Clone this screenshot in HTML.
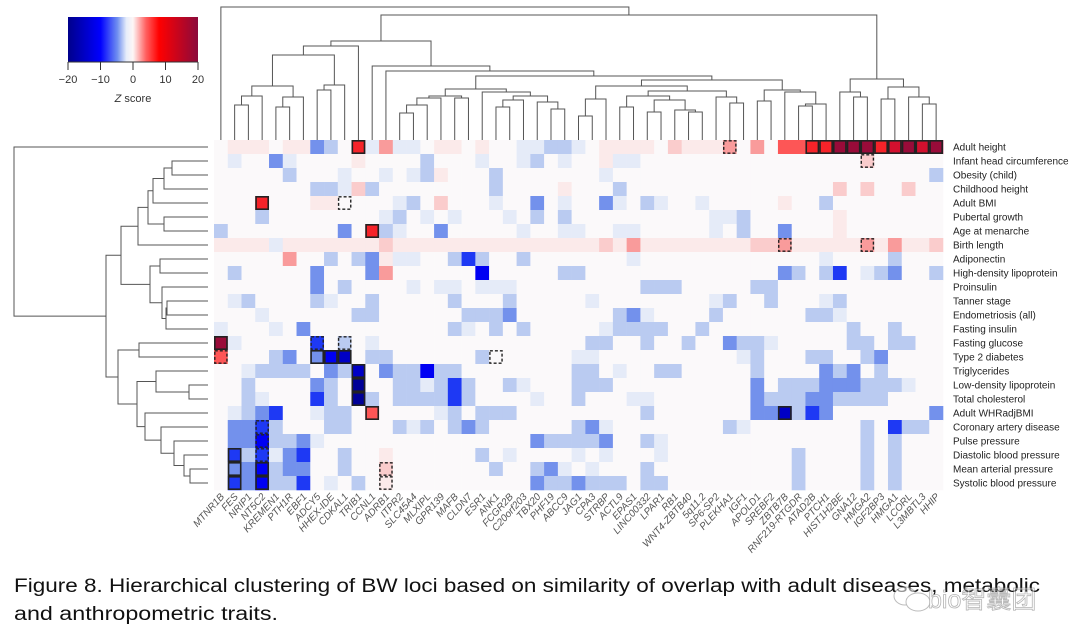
<!DOCTYPE html>
<html><head><meta charset="utf-8"><style>
html,body{margin:0;padding:0;background:#fff;}
svg{display:block;font-family:"Liberation Sans",sans-serif;}
</style></head><body>
<svg id="chart" width="1080" height="644" viewBox="0 0 1080 644" xmlns="http://www.w3.org/2000/svg">
<defs>
<linearGradient id="cbg" x1="0" x2="1" y1="0" y2="0">
<stop offset="0" stop-color="#00008b"/><stop offset="0.25" stop-color="#0000ff"/>
<stop offset="0.38" stop-color="#6f8ff0"/><stop offset="0.45" stop-color="#e8eefa"/><stop offset="0.5" stop-color="#fdf6f6"/>
<stop offset="0.6" stop-color="#ff6060"/><stop offset="0.7" stop-color="#ff0000"/><stop offset="1" stop-color="#8b0a3c"/>
</linearGradient>
</defs>
<g id="colorbar">
<rect x="68" y="17" width="130" height="45" fill="url(#cbg)"/>
<line x1="68" y1="62" x2="198" y2="62" stroke="#333"/>
<g id="cbticks"></g>
<text x="133" y="102" font-size="11" text-anchor="middle" fill="#333"><tspan font-style="italic">Z</tspan> score</text>
</g>
<g id="topdend" stroke="#555" stroke-width="1" fill="none"></g>
<g id="leftdend" stroke="#555" stroke-width="1" fill="none"></g>
<g id="cells"></g>
<g id="boxes" fill="none"></g>
<g id="rowlabels"></g>
<g id="collabels"></g>
<g font-size="19" fill="#111">
<text x="14" y="592" textLength="1026" lengthAdjust="spacingAndGlyphs">Figure 8. Hierarchical clustering of BW loci based on similarity of overlap with adult diseases, metabolic</text>
<text x="14" y="620" textLength="264" lengthAdjust="spacingAndGlyphs">and anthropometric traits.</text>
</g>
<g opacity="0.55">
<ellipse cx="905" cy="596" rx="11" ry="9" fill="#fff" stroke="#888"/>
<ellipse cx="918" cy="602" rx="12" ry="9" fill="#fff" stroke="#888"/>
<text x="928" y="608" font-size="25" fill="#fff" stroke="#777" stroke-width="0.8" font-family="Liberation Sans, Noto Sans CJK SC, sans-serif">bio智囊团</text>
</g>
</svg>
<script>
const rowNames=["Adult height","Infant head circumference","Obesity (child)","Childhood height","Adult BMI","Pubertal growth","Age at menarche","Birth length","Adiponectin","High-density lipoprotein","Proinsulin","Tanner stage","Endometriosis (all)","Fasting insulin","Fasting glucose","Type 2 diabetes","Triglycerides","Low-density lipoprotein","Total cholesterol","Adult WHRadjBMI","Coronary artery disease","Pulse pressure","Diastolic blood pressure","Mean arterial pressure","Systolic blood pressure"];
const colNames=["MTNR1B","FES","NRIP1","NT5C2","KREMEN1","PTH1R","EBF1","ADCY5","HHEX-IDE","CDKAL1","TRIB1","CCNL1","ADRB1","ITPR2","SLC45A4","MLXIPL","GPR139","MAFB","CLDN7","ESR1","ANK1","FCGR2B","C20orf203","TBX20","PHF19","ABCC9","JAG1","CPA3","STRBP","ACTL9","EPAS1","LINC00332","LPAR1","RB1","WNT4-ZBTB40","5q11.2","SP6-SP2","PLEKHA1","IGF1","APOLD1","SREBF2","ZBTB7B","RNF219-RTGDR","ATAD2B","PTCH1","HIST1H2BE","GNA12","HMGA2","IGF2BP3","HMGA1","LCORL","L3MBTL3","HHIP"];
const codeValues={".":0,"1":1.5,"2":3,"3":5,"4":8,"5":11,"6":15,"7":19,"a":-1.5,"b":-3,"c":-5,"d":-8,"e":-11,"f":-15,"g":-19};
const zRows=[
".111.11cb."+"5a3aa.11.1"+"..aabba.11"+"11.21113.3"+".445577756"+"767",
".a..ca...."+"1....b...a"+"..ab.a..1a"+"a........."+".......2.."+"...",
".....b...a"+"..a.ab1..."+"b.......a."+".........."+".........."+"..b",
".......bba"+"2b........"+"b....1...b"+".........."+".....2.2.."+"2..",
"...5...11."+"...ab.2..."+"a..c.a..ca"+".ba..a...."+".1..b....."+"...",
"...b......"+"..ab.a.a.."+".a.b.b...."+"......aab."+".....1...."+"...",
"b........c"+".5ba..c..."+"..a..aa..a"+"a.....a.b."+".c...1...."+"...",
"1111a11111"+"1121111111"+"1111111121"+"3111111112"+"2311111313"+"112",
".....3..b."+"bc1aa..bdb"+"..b......."+"a........."+"....a....b"+"...",
".b.....c.."+".c3......e"+".....bb..."+".........."+".cb.bd.abc"+"..b",
".......c.b"+"....a.aa.a"+"aa........"+".bbb.....b"+"b........."+"...",
".ab....ba."+".b.....b.."+".b.....a.."+"......ab.."+"b...ab...."+"...",
"...a......"+"bb......bb"+"bc.......b"+"ca....b..."+"...bba...."+"...",
"a...a.c..."+".......ba."+"b.b.....ab"+"bbb..b...."+"......b..b"+"...",
"7a.....d.b"+".a........"+".......bb."+".b..b..cbb"+"a.....bb.b"+"b..",
"4...bc.cef"+".bb......b"+"......aa.."+"........ab"+"...bb..bc."+"...",
"..abbbb.cb"+"f.cbbebb.."+"......bb.a"+"..bb.....b"+"....cbc.b."+"...",
"..b....cb."+"g..bbabdb."+".ba...bbb."+".........c"+".bbbcccbbb"+"a..",
"..ba...db."+"gb.bbbbdb."+"...a..b..."+"aa.......c"+"bbbccbbbb."+"...",
".abcd..abb"+".4....ab.b"+"bb........"+".b.......c"+"cfbdc....."+"..c",
".ccdb...bb"+"...bab.bcb"+"......bca."+".......ba."+".......b.d"+"bb.",
".ccebbca.."+".........."+"...cbbbbc."+".ba......."+".......b.b"+"...",
".dbdacd..b"+"..1......b"+".a....a.a."+"..a......."+"..b....b.b"+"...",
".ccebcc..b"+"..2......."+"b..bca.a.."+".b........"+"..b....b.b"+"...",
".dcebbd.a."+"b.1......."+"...cbbcbbb"+".bb......."+"..b....b.b"+"..."
];
const solidBoxes=[[0,10],[0,43],[0,44],[0,45],[0,46],[0,47],[0,48],[0,49],[0,50],[0,51],[0,52],[4,3],[6,11],[14,0],[15,7],[15,8],[15,9],[16,10],[17,10],[18,10],[19,11],[19,41],[22,1],[23,1],[24,1],[23,3],[24,3]];
const dashedBoxes=[[0,37],[1,47],[4,9],[7,41],[7,47],[14,7],[14,9],[15,0],[15,20],[20,3],[21,3],[22,3],[23,12],[24,12]];
const cbTicks=[-20,-10,0,10,20];
const colTree=[0,[[[[[[[1,2,105],3,96],[[4,5,107],6,97],86],[[7,8,90],9,85],55],10,46],[11,[12,[[[[[[13,14,113],15,105],16,98],[17,18,98],96],[19,[[[20,21,107],22,100],[23,[24,25,109],102],96],92],89],[[[[26,27,116],28,99],[[[29,30,107],[[31,32,112],[33,[34,35,112],110],100],96],[36,[37,38,103],97],91],86],[[39,40,101],[41,[[42,43,106],44,104],92],90],80],76],71],66],41],[[45,[46,47,97],92],[[48,49,99],[50,[51,52,104],97],87],79],15],7];
const rowTree=[0,[[[[[[[1,2,172],3,164],4,153],[5,6,164],148],7,138],[[8,9,160],[10,[[11,12,167],13,166],162],150],121],[[14,15,139],[[16,[17,18,189],156],[19,[20,[21,[22,[23,24,190],184],174],161],145],137],118],106],14];

const NS="http://www.w3.org/2000/svg";
const X0=214,Y0=140,CW=729/53,RH=350/25;
const xCol=c=>X0+CW*c, yRow=r=>Y0+RH*r;
const zx=v=>68+(v+20)/40*130;
function mk(t,a,p){const e=document.createElementNS(NS,t);for(const k in a)e.setAttribute(k,a[k]);p.appendChild(e);return e;}
const stops=[[-20,[0,0,139]],[-10,[0,0,255]],[-7,[45,85,238]],[-4,[150,175,235]],[-2,[222,230,247]],[0,[251,249,250]],[2,[251,229,229]],[5,[249,155,155]],[10,[255,40,40]],[15,[210,16,46]],[20,[139,10,60]]];
function color(v){v=Math.max(-20,Math.min(20,v));for(let i=0;i<stops.length-1;i++){const[a,ca]=stops[i],[b,cb]=stops[i+1];if(v<=b){const t=(v-a)/(b-a);return"rgb("+ca.map((x,j)=>Math.round(x+(cb[j]-x)*t)).join(",")+")";}}return"rgb(139,10,60)";}

const tg=document.getElementById("cbticks");
cbTicks.forEach(t=>{
 const l=mk("line",{x1:zx(t),x2:zx(t),y1:62,y2:70,stroke:"#333"},tg);
 
 
 const tx=mk("text",{x:zx(t),y:83,"font-size":11,"text-anchor":"middle",fill:"#333"},tg);
 
 
 tx.textContent=t<0?"\u2212"+(-t):String(t);
});

const cg=document.getElementById("cells");
zRows.forEach((s,r)=>{for(let c=0;c<53;c++){const v=codeValues[s[c]]||0;
 const e=mk("rect",{x:xCol(c).toFixed(2),y:yRow(r).toFixed(2),width:(CW+0.3).toFixed(2),height:(RH+0.3).toFixed(2),fill:color(v)},cg);
 
 }});
const bg=document.getElementById("boxes");
solidBoxes.forEach(([r,c])=>{const e=mk("rect",{x:xCol(c)+0.8,y:yRow(r)+0.8,width:CW-1.6,height:RH-1.6,stroke:"#222","stroke-width":1.6},bg);
 
 });
dashedBoxes.forEach(([r,c])=>{const e=mk("rect",{x:xCol(c)+0.8,y:yRow(r)+0.8,width:CW-1.6,height:RH-1.6,stroke:"#222","stroke-width":1.4,"stroke-dasharray":"3,2"},bg);
 
 });

const rl=document.getElementById("rowlabels");
rowNames.forEach((n,r)=>{const t=mk("text",{x:953,y:yRow(r)+RH/2+3.5,"font-size":10,fill:"#222"},rl);
 
 
 t.textContent=n;});
const cl=document.getElementById("collabels");
colNames.forEach((n,c)=>{const x=xCol(c)+CW/2+4,y=497;
 const t=mk("text",{x:x,y:y,"font-size":10,"font-style":"italic","text-anchor":"end",fill:"#555",transform:`rotate(-48 ${x} ${y})`},cl);
 
 
 t.textContent=n;});

function drawTree(node,g,leafPos,leafDepth,horizontal){
 if(typeof node==="number")return{p:leafPos(node),d:leafDepth};
 const a=drawTree(node[0],g,leafPos,leafDepth,horizontal),b=drawTree(node[1],g,leafPos,leafDepth,horizontal),d=node[2];
 let dstr;
 if(!horizontal)dstr=`M${a.p},${a.d}V${d}H${b.p}V${b.d}`;
 else dstr=`M${a.d},${a.p}H${d}V${b.p}H${b.d}`;
 const e=mk("path",{d:dstr},g);
 
 
 return{p:(a.p+b.p)/2,d:d};
}
drawTree(colTree,document.getElementById("topdend"),c=>xCol(c)+CW/2,140,false);
drawTree(rowTree,document.getElementById("leftdend"),r=>yRow(r)+RH/2,208,true);
</script>
</body></html>
